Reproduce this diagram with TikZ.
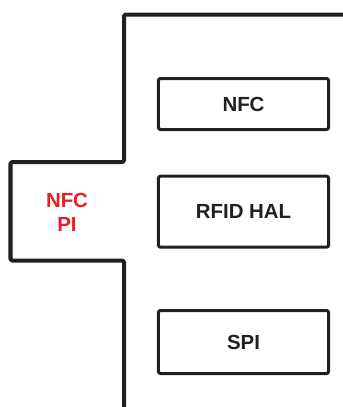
\documentclass[tikz,border=0pt]{standalone}
\usepackage{fontspec}
\setmainfont{Liberation Sans}
\usepackage{xcolor}
\usetikzlibrary{positioning}
\definecolor{inkdark}{RGB}{35,31,32}
\definecolor{pired}{RGB}{237,28,36}

\begin{document}
\begin{tikzpicture}[x=1bp, y=-1bp,
  blk/.style={draw=inkdark, line width=3bp, rounded corners=2bp,
              minimum width=170bp, font=\fontsize{20.5}{24}\selectfont\bfseries,
              text=inkdark, inner sep=0pt},
  edge/.style={draw=inkdark, line width=4bp, line join=round, rounded corners=1.5bp},
  lbl/.style={font=\fontsize{20.5}{24}\selectfont\bfseries, text=pired, align=center,
              inner sep=0pt},
]
\useasboundingbox (0,0) rectangle (343,407);

% --- outline of the PI region ---
\coordinate (tr) at (350,14.5);
\coordinate (bl) at (124,415);
\draw[edge] (tr) -- (124,14.5) -- (124,162) -- (10.5,162) -- (10.5,260.5)
  -- (124,260.5) -- (bl);
\node[lbl] (pi) at (67,212) {NFC\\PI};

% --- stack ---
\node[blk, minimum height=51bp] (nfc)  at (243.5,104)   {NFC};
\node[blk, minimum height=71bp] (rfid) at (243.5,211.7) {RFID HAL};
\node[blk, minimum height=63bp] (spi)  at (243.5,342)   {SPI};
\end{tikzpicture}
\end{document}
